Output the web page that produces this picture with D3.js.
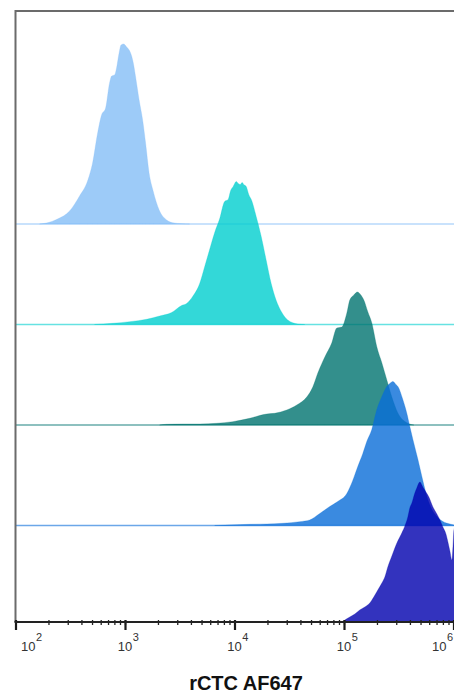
<!DOCTYPE html>
<html>
<head>
<meta charset="utf-8">
<script src="https://cdn.jsdelivr.net/npm/d3@7"></script>
<style>
  html, body { margin: 0; padding: 0; background: #fff; overflow: hidden; }
  text { font-family: "Liberation Sans", Arial, sans-serif; }
</style>
</head>
<body>
<svg id="chart" width="454" height="693"></svg>
<script>
// Offset histograms of rCTC AF647 staining.
// Each sample: log10(intensity) along the outline and the event count there.
const logA = [2.219, 2.283, 2.384, 2.494, 2.585, 2.658, 2.704, 2.750, 2.786, 2.823, 2.859, 2.878, 2.905, 2.923, 2.946, 2.964, 2.987, 3.015, 3.051, 3.074, 3.097, 3.129, 3.161, 3.188, 3.220, 3.257, 3.312, 3.380, 3.435, 3.517, 3.590];
const cntA = [0, 1, 5, 13, 28, 43, 61, 91, 109, 116, 141, 148, 149, 156, 171, 179, 180, 177, 171, 162, 147, 124, 104, 81, 51, 33, 14, 4, 1.3, 0.3, 0];

const logB = [2.722, 2.887, 3.042, 3.197, 3.316, 3.426, 3.517, 3.563, 3.618, 3.682, 3.728, 3.773, 3.819, 3.865, 3.910, 3.942, 3.965, 3.988, 4.016, 4.034, 4.052, 4.070, 4.084, 4.107, 4.130, 4.157, 4.198, 4.244, 4.290, 4.335, 4.381, 4.427, 4.486, 4.578, 4.642];
const cntB = [0, 1.2, 2.8, 5.2, 8.5, 12, 19, 21, 28, 41, 58, 75, 92, 106, 123, 125, 134, 138, 143, 141, 140, 142, 140, 138, 130, 124, 108, 88, 64, 41, 24, 13, 4.5, 0.5, 0];

const logC = [3.316, 3.380, 3.527, 3.682, 3.837, 3.984, 4.139, 4.294, 4.367, 4.477, 4.569, 4.660, 4.715, 4.761, 4.825, 4.888, 4.934, 4.980, 5.026, 5.053, 5.090, 5.122, 5.154, 5.181, 5.218, 5.254, 5.300, 5.346, 5.391, 5.437, 5.492, 5.574, 5.638];
const cntC = [0, 0.7, 1, 1, 1.7, 3.3, 6.7, 11, 11.7, 15, 20, 28, 38, 52, 68, 82, 97, 98, 112, 125, 130, 133, 130, 125, 113, 102, 78, 62, 45, 28, 12, 2.3, 0];

const logD = [3.819, 4.002, 4.139, 4.294, 4.441, 4.596, 4.687, 4.779, 4.870, 4.943, 5.026, 5.080, 5.126, 5.172, 5.208, 5.254, 5.300, 5.346, 5.391, 5.419, 5.446, 5.474, 5.492, 5.537, 5.574, 5.601, 5.629, 5.675, 5.711, 5.757, 5.803, 5.848, 5.903, 5.967, 6.022];
const cntD = [0, 0.7, 1.2, 1.5, 2.2, 3.8, 5.5, 12, 19, 24, 32, 45, 59, 72, 84, 96, 116, 129, 139, 142, 144, 141, 139, 126, 112, 99, 86, 66, 49, 29, 16, 9, 4, 1.5, 0];

const logE = [4.943, 4.989, 5.053, 5.099, 5.144, 5.190, 5.236, 5.272, 5.309, 5.346, 5.373, 5.400, 5.437, 5.483, 5.528, 5.556, 5.583, 5.601, 5.620, 5.647, 5.665, 5.693, 5.720, 5.748, 5.775, 5.812, 5.848, 5.876, 5.903, 5.931, 5.949, 5.967, 5.985, 5.995, 6.004, 6.040, 6.077, 6.150];
const cntE = [0, 4.5, 9, 12, 16, 19, 23, 29, 36, 43, 49, 59, 70, 83, 93, 100, 109, 118, 123, 133, 138, 144, 139, 134, 129, 119, 112, 106, 99, 92, 84, 75, 66, 79, 96, 104, 64, 0];

const sampleLogs   = [logA, logB, logC, logD, logE];
const sampleCounts = [cntA, cntB, cntC, cntD, cntE];
const sampleColors = ["#85bef6", "#00cece", "#00736f", "#096dd8", "#0000ae"];

const decadeExponents = [2, 3, 4, 5, 6];
const axisTitle = "rCTC AF647";

const W = 454, H = 693;
const plot = { left: 15.5, top: 11, right: 453.5, bottom: 622 };

const svg = d3.select("#chart");

const x = d3.scaleLog().domain([1e2, 1e6]).range([plot.left, plot.right]);
const rowBase = d3.scalePoint().domain(d3.range(sampleLogs.length)).range([224, 626]);
const h = d3.scaleLinear().domain([0, 180]).range([0, 180]);

svg.append("defs").append("clipPath").attr("id", "plotClip")
  .append("rect")
  .attr("x", plot.left).attr("y", 0)
  .attr("width", W + 40 - plot.left).attr("height", plot.bottom);

const layer = svg.append("g").attr("clip-path", "url(#plotClip)");

sampleLogs.forEach((logs, i) => {
  const base = rowBase(i);
  const pts = logs.map((v, k) => [10 ** v, sampleCounts[i][k]]);
  const color = sampleColors[i];

  // baseline of this histogram row
  layer.append("line")
    .attr("x1", plot.left).attr("x2", W + 40)
    .attr("y1", base).attr("y2", base)
    .attr("stroke", color).attr("stroke-opacity", 0.6).attr("stroke-width", 1.6);

  const area = d3.area()
    .x(d => x(d[0]))
    .y0(base)
    .y1(d => base - h(d[1]))
    .curve(d3.curveMonotoneX);

  layer.append("path")
    .datum(pts)
    .attr("d", area)
    .attr("fill", color).attr("fill-opacity", 0.8)
    .attr("stroke", color).attr("stroke-opacity", 0.35).attr("stroke-width", 0.8);
});

// frame: left and top edges
svg.append("path")
  .attr("d", `M${plot.left},${plot.bottom} V${plot.top} H${W + 10}`)
  .attr("fill", "none").attr("stroke", "#6b6b6b").attr("stroke-width", 2);

// x axis: minor ticks at every multiple, major ticks at decades
const allTicks = x.ticks();
const majors = decadeExponents.map(e => 10 ** e);

svg.append("g")
  .attr("transform", `translate(0,${plot.bottom - 2})`)
  .call(d3.axisBottom(x).tickValues(allTicks).tickSize(5).tickFormat(""))
  .call(g => g.select(".domain").remove())
  .call(g => g.selectAll(".tick line").attr("stroke", "#222").attr("stroke-width", 1.3));

svg.append("g")
  .attr("transform", `translate(0,${plot.bottom - 2})`)
  .call(d3.axisBottom(x).tickValues(majors).tickSize(10).tickFormat(""))
  .call(g => g.select(".domain").remove())
  .call(g => g.selectAll(".tick line").attr("stroke", "#1a1a1a").attr("stroke-width", 2.2));

svg.append("line")
  .attr("x1", plot.left - 1).attr("x2", W)
  .attr("y1", plot.bottom).attr("y2", plot.bottom)
  .attr("stroke", "#222").attr("stroke-width", 2);

// decade labels as 10 with superscript exponent, kept inside the window
const labels = svg.append("g").attr("fill", "#333");
decadeExponents.forEach(e => {
  const cx = x(10 ** e);
  const startX = Math.min(Math.max(cx - 7.2, 21), 432);
  const t = labels.append("text")
    .attr("x", startX).attr("y", 650.5)
    .attr("font-size", 13);
  t.append("tspan").text("10");
  t.append("tspan").attr("dy", -9.5).attr("dx", 0.5).attr("font-size", 11).text(e);
});

svg.append("text")
  .attr("x", 246).attr("y", 690)
  .attr("text-anchor", "middle")
  .attr("font-size", 20).attr("font-weight", "bold")
  .attr("fill", "#111")
  .text(axisTitle);
</script>
</body>
</html>
